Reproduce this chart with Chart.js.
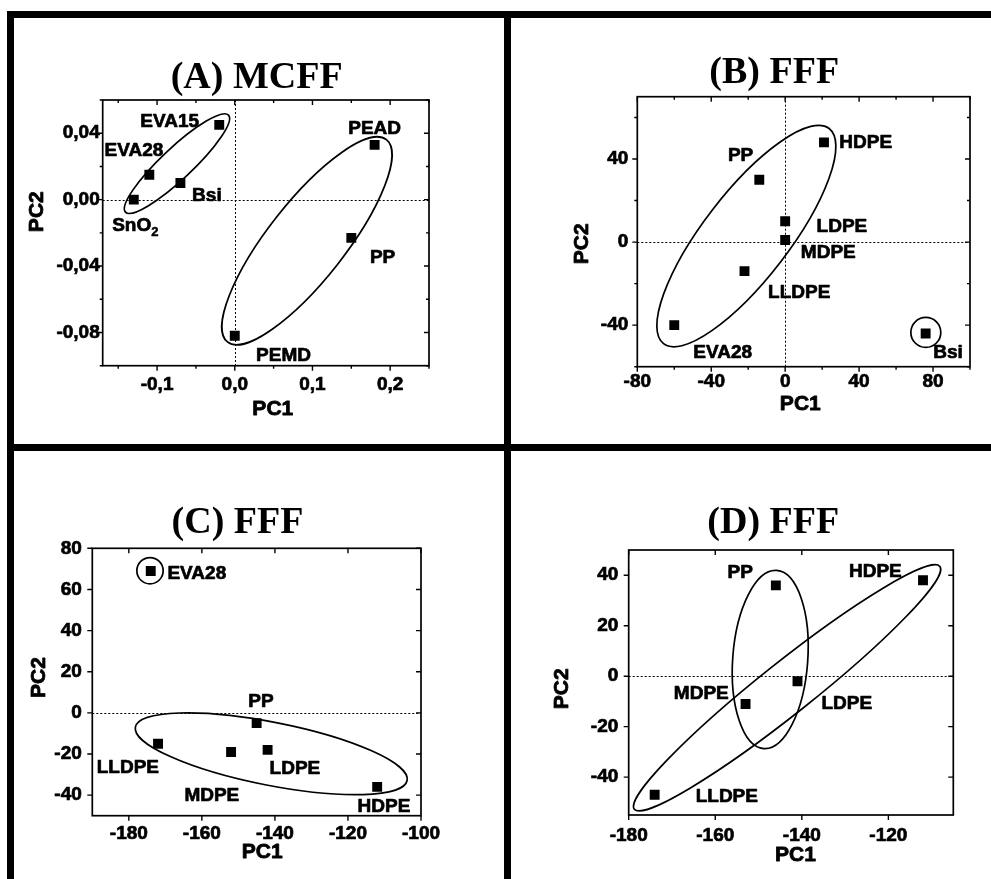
<!DOCTYPE html>
<html>
<head>
<meta charset="utf-8">
<script src="https://cdn.jsdelivr.net/npm/chart.js@4.4.1/dist/chart.umd.min.js"></script>
<style>
  html, body { margin: 0; padding: 0; background: #fff; }
  body { width: 991px; height: 879px; position: relative; overflow: hidden; }
  .bar { position: absolute; background: #000; }
  .panel { position: absolute; }
  .panel canvas { display: block; }
</style>
</head>
<body>
<div class="bar" style="left:7px;top:11px;width:984px;height:7px"></div>
<div class="bar" style="left:7px;top:11px;width:7px;height:868px"></div>
<div class="bar" style="left:504px;top:11px;width:7px;height:868px"></div>
<div class="bar" style="left:7px;top:444px;width:984px;height:7px"></div>

<div class="panel" style="left:14px;top:18px"><canvas id="chartA" width="490" height="426"></canvas></div>
<div class="panel" style="left:511px;top:18px"><canvas id="chartB" width="480" height="426"></canvas></div>
<div class="panel" style="left:14px;top:451px"><canvas id="chartC" width="490" height="428"></canvas></div>
<div class="panel" style="left:511px;top:451px"><canvas id="chartD" width="480" height="428"></canvas></div>

<script>
// (A) MCFF
const namesA = ['SnO_2', 'EVA28', 'Bsi', 'EVA15', 'PEAD', 'PP', 'PEMD'];
const pc1A = [-0.13, -0.11, -0.07, -0.02, 0.18, 0.15, 0.0];
const pc2A = [0.0, 0.015, 0.01, 0.045, 0.033, -0.023, -0.082];
// groups: centre, end of the long half-axis, short/long ratio
const groupsA = [
  { c: [-0.0744, 0.0217], t: [-0.0081, 0.0509], r: 0.22 },
  { c: [0.0929, -0.0248], t: [0.1952, 0.0361], r: 0.30 }
];

// (B) FFF
const namesB = ['HDPE', 'PP', 'LDPE', 'MDPE', 'LLDPE', 'EVA28', 'Bsi'];
const pc1B = [21, -14, 0, 0, -22, -60, 76];
const pc2B = [48, 30, 10, 1, -14, -40, -44];
const groupsB = [
  { c: [-21.0, 2.9], t: [23.8, 54.7], r: 0.316 },
  { c: [76.1, -43.5], t: [84.2, -43.5], r: 1 }
];

// (C) FFF
const namesC = ['EVA28', 'PP', 'LLDPE', 'LDPE', 'MDPE', 'HDPE'];
const pc1C = [-174, -145, -172, -142, -152, -112];
const pc2C = [69, -5, -15, -18, -19, -36];
const groupsC = [
  { c: [-141.0, -19.9], t: [-103.8, -32.9], r: 0.228 },
  { c: [-174.2, 69.1], t: [-170.6, 69.1], r: 1 }
];

// (D) FFF
const namesD = ['PP', 'HDPE', 'LDPE', 'MDPE', 'LLDPE'];
const pc1D = [-146, -112, -141, -153, -174];
const pc2D = [36, 38, -2, -11, -47];
const groupsD = [
  { c: [-143.4, -4.6], t: [-108.1, 43.5], r: 0.132 },
  { c: [-147.3, 6.6], t: [-145.8, 41.9], r: 0.42 }
];

// label placement (px from the point: left edge of text, baseline)
const labelOffA = [[-21.6, 31.4], [-44.7, -19], [11.7, 18.4], [-79, 2.3], [-26.4, -10.7], [18.6, 25], [21.3, 24.7]];
const labelOffB = [[15.3, 5.4], [-31.4, -18.3], [31.4, 10.6], [15.7, 18.3], [23.6, 27.3], [19, 32.6], [7.6, 24.3]];
const labelOffC = [[16.7, 8.3], [-8.4, -16.6], [-61.3, 29.3], [2, 24], [-46.7, 49.4], [-19.6, 24.7]];
const labelOffD = [[-48.3, -7.4], [-74, -3], [24, 27.7], [-71.7, -5], [41, 7.6]];

const SANS = '"Liberation Sans", Arial, sans-serif';
const SERIF = '"Liberation Serif", "Times New Roman", serif';

const panels = [
  { id: 'chartA', box: [14, 18, 490, 426], area: [102.7, 100, 429, 365.7],
    x: { min: -0.17, max: 0.25, step: 0.05, major: 0.1, dec: 1 },
    y: { min: -0.1, max: 0.06, step: 0.02, major: 0.04, dec: 2 },
    comma: true, yGap: 3, xGap: 8,
    names: namesA, pc1: pc1A, pc2: pc2A, groups: groupsA, offsets: labelOffA,
    title: '(A) MCFF', titleAt: [256.7, 88], xTitleAt: [272.8, 415], yTitleAt: [43.3, 211.7] },
  { id: 'chartB', box: [511, 18, 480, 426], area: [637.3, 96.7, 970, 366.7],
    x: { min: -80, max: 100, step: 20, major: 40, dec: 0 },
    y: { min: -60, max: 70, step: 20, major: 40, dec: 0 },
    comma: false, yGap: 9, xGap: 4,
    names: namesB, pc1: pc1B, pc2: pc2B, groups: groupsB, offsets: labelOffB,
    title: '(B) FFF', titleAt: [774.2, 82.5], xTitleAt: [800.3, 410], yTitleAt: [588.3, 243.8] },
  { id: 'chartC', box: [14, 451, 490, 428], area: [92.3, 548.3, 421, 815.7],
    x: { min: -190, max: -100, step: 20, major: 20, dec: 0 },
    y: { min: -50, max: 80, step: 20, major: 20, dec: 0 },
    comma: false, yGap: 10.5, xGap: 6.6,
    names: namesC, pc1: pc1C, pc2: pc2C, groups: groupsC, offsets: labelOffC,
    title: '(C) FFF', titleAt: [237.5, 533.3], xTitleAt: [262.2, 858.3], yTitleAt: [45, 677.5] },
  { id: 'chartD', box: [511, 451, 480, 428], area: [628.7, 550, 953.3, 815],
    x: { min: -180, max: -105, step: 20, major: 20, dec: 0 },
    y: { min: -55, max: 50, step: 20, major: 20, dec: 0 },
    comma: false, yGap: 10.4, xGap: 8.9,
    names: namesD, pc1: pc1D, pc2: pc2D, groups: groupsD, offsets: labelOffD,
    title: '(D) FFF', titleAt: [773.3, 533.3], xTitleAt: [795.5, 860.7], yTitleAt: [568.3, 688.8] }
];

function onStep(v, step) {
  const q = v / step;
  return Math.abs(q - Math.round(q)) < 1e-6;
}

function fmt(v, dec, comma) {
  if (Math.abs(v) < 1e-9) v = 0;
  const s = v.toFixed(dec);
  return comma ? s.replace('.', ',') : s;
}

// heavy text: fill plus a thin stroke, like the original figure's bold
function heavyText(ctx, text, x, y, sw) {
  if (sw > 0) {
    ctx.lineWidth = sw;
    ctx.strokeText(text, x, y);
  }
  ctx.fillText(text, x, y);
}

function drawLabel(ctx, text, x, y) {
  const parts = text.split('_');
  ctx.font = 'bold 19px ' + SANS;
  heavyText(ctx, parts[0], x, y, 0.7);
  if (parts[1]) {
    const w = ctx.measureText(parts[0]).width;
    ctx.font = 'bold 13px ' + SANS;
    heavyText(ctx, parts[1], x + w, y + 5, 0.5);
  }
}

const decorPlugin = {
  id: 'decor',
  beforeDatasetsDraw(chart) {
    const p = chart.options.plugins.decor.panel;
    const ctx = chart.ctx;
    const { left, right, top, bottom } = chart.chartArea;
    const xs = chart.scales.x, ys = chart.scales.y;
    ctx.save();
    ctx.strokeStyle = '#000';

    // dotted zero lines
    ctx.lineWidth = 1;
    ctx.setLineDash([2, 2]);
    ctx.beginPath();
    if (xs.min < 0 && xs.max > 0) {
      const px = Math.round(xs.getPixelForValue(0)) + 0.5;
      ctx.moveTo(px, top); ctx.lineTo(px, bottom);
    }
    if (ys.min < 0 && ys.max > 0) {
      const py = Math.round(ys.getPixelForValue(0)) + 0.5;
      ctx.moveTo(left, py); ctx.lineTo(right, py);
    }
    ctx.stroke();
    ctx.setLineDash([]);

    // group ellipses
    ctx.lineWidth = 1.7;
    p.groups.forEach(g => {
      const cx = xs.getPixelForValue(g.c[0]), cy = ys.getPixelForValue(g.c[1]);
      const ux = xs.getPixelForValue(g.t[0]) - cx, uy = ys.getPixelForValue(g.t[1]) - cy;
      ctx.save();
      ctx.beginPath();
      ctx.transform(ux, uy, -uy * g.r, ux * g.r, cx, cy);
      ctx.arc(0, 0, 1, 0, Math.PI * 2);
      ctx.restore();
      ctx.stroke();
    });

    // frame and tick marks (out on left/bottom, in on top/right)
    ctx.lineWidth = 1.7;
    ctx.strokeRect(left, top, right - left, bottom - top);
    ctx.lineWidth = 1.4;
    ctx.beginPath();
    xs.ticks.forEach(t => {
      const px = xs.getPixelForValue(t.value);
      const len = onStep(t.value, p.x.major) ? 5 : 3;
      ctx.moveTo(px, bottom); ctx.lineTo(px, bottom + len);
      ctx.moveTo(px, top); ctx.lineTo(px, top + len);
    });
    ys.ticks.forEach(t => {
      const py = ys.getPixelForValue(t.value);
      const len = onStep(t.value, p.y.major) ? 5 : 3;
      ctx.moveTo(left, py); ctx.lineTo(left - len, py);
      ctx.moveTo(right, py); ctx.lineTo(right - len, py);
    });
    ctx.stroke();
    ctx.restore();
  },
  afterDatasetsDraw(chart) {
    const p = chart.options.plugins.decor.panel;
    const ctx = chart.ctx;
    const xs = chart.scales.x, ys = chart.scales.y;
    const ox = p.box[0], oy = p.box[1];
    ctx.save();
    ctx.fillStyle = '#000';
    ctx.strokeStyle = '#000';
    ctx.lineJoin = 'round';
    ctx.textAlign = 'left';
    ctx.textBaseline = 'alphabetic';
    p.names.forEach((name, i) => {
      const px = xs.getPixelForValue(p.pc1[i]);
      const py = ys.getPixelForValue(p.pc2[i]);
      drawLabel(ctx, name, px + p.offsets[i][0], py + p.offsets[i][1]);
    });

    // panel title
    ctx.textAlign = 'center';
    ctx.font = 'bold 38px ' + SERIF;
    heavyText(ctx, p.title, p.titleAt[0] - ox, p.titleAt[1] - oy, 0);

    // axis titles
    ctx.font = 'bold 21px ' + SANS;
    heavyText(ctx, 'PC1', p.xTitleAt[0] - ox, p.xTitleAt[1] - oy, 0.8);
    ctx.translate(p.yTitleAt[0] - ox, p.yTitleAt[1] - oy);
    ctx.rotate(-Math.PI / 2);
    heavyText(ctx, 'PC2', 0, 0, 0.8);
    ctx.restore();
  }
};

panels.forEach(p => {
  const [bx, by, bw, bh] = p.box;
  const [x0, y0, x1, y1] = p.area;
  const points = p.pc1.map((v, i) => ({ x: v, y: p.pc2[i] }));
  new Chart(document.getElementById(p.id), {
    type: 'scatter',
    data: {
      datasets: [{
        data: points,
        pointStyle: 'rect',
        pointRadius: 7,
        pointBorderWidth: 0,
        backgroundColor: '#000',
        borderColor: '#000'
      }]
    },
    options: {
      responsive: false,
      animation: false,
      devicePixelRatio: 1,
      events: [],
      layout: { padding: { left: 0, top: y0 - by, right: bx + bw - x1, bottom: 0 } },
      scales: {
        x: {
          type: 'linear',
          min: p.x.min, max: p.x.max,
          grid: { display: false, drawTicks: false },
          border: { display: false },
          afterFit: s => { s.height = by + bh - y1; },
          ticks: {
            stepSize: p.x.step,
            includeBounds: false,
            autoSkip: false,
            maxRotation: 0,
            padding: p.xGap,
            color: '#000',
            textStrokeColor: '#000',
            textStrokeWidth: 0.7,
            font: { family: SANS, size: 19, weight: 'bold' },
            callback: v => onStep(v, p.x.major) ? fmt(v, p.x.dec, p.comma) : ''
          }
        },
        y: {
          type: 'linear',
          min: p.y.min, max: p.y.max,
          grid: { display: false, drawTicks: false },
          border: { display: false },
          afterFit: s => { s.width = x0 - bx; },
          ticks: {
            stepSize: p.y.step,
            includeBounds: false,
            autoSkip: false,
            padding: p.yGap,
            color: '#000',
            textStrokeColor: '#000',
            textStrokeWidth: 0.7,
            font: { family: SANS, size: 19, weight: 'bold' },
            callback: v => onStep(v, p.y.major) ? fmt(v, p.y.dec, p.comma) : ''
          }
        }
      },
      plugins: {
        legend: { display: false },
        tooltip: { enabled: false },
        decor: { panel: p }
      }
    },
    plugins: [decorPlugin]
  });
});
</script>
</body>
</html>
